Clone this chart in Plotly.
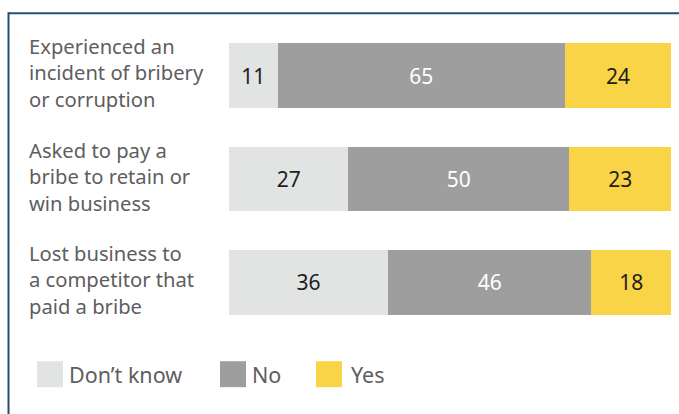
import plotly.graph_objects as go

# Survey responses, percent of respondents
categories = [
    "Experienced an incident of bribery or corruption",
    "Asked to pay a bribe to retain or win business",
    "Lost business to a competitor that paid a bribe",
]
category_lines = [
    ["Experienced an", "incident of bribery", "or corruption"],
    ["Asked to pay a", "bribe to retain or", "win business"],
    ["Lost business to", "a competitor that", "paid a bribe"],
]
series_names = ["Don’t know", "No", "Yes"]
dont_know = [11, 27, 36]
no = [65, 50, 46]
yes = [24, 23, 18]

colors = ["#e2e3e3", "#9d9e9d", "#f9d447"]
label_colors = ["#1e1e1e", "#ffffff", "#1e1e1e"]
FONT = "Noto Sans"
TEXT_GREY = "#5e5e5e"

W, H = 679, 414
ML, MR, MT, MB = 229, 8, 23.75, 79.75
plot_w = W - ML - MR
plot_h = H - MT - MB


def px_x(x):
    return (x - ML) / plot_w


def px_y(y):
    return (H - MB - y) / plot_h


fig = go.Figure()
for name, vals, col, lcol in zip(series_names, [dont_know, no, yes], colors, label_colors):
    fig.add_trace(go.Bar(
        y=categories, x=vals, name=name, orientation="h",
        marker=dict(color=col, line=dict(width=0)),
        text=[str(v) for v in vals], textposition="inside",
        insidetextanchor="middle",
        textfont=dict(family=FONT, size=21, color=lcol),
        showlegend=False, hoverinfo="skip",
    ))

# Multi-line category labels, left aligned
annotations = []
for cat, lines in zip(categories, category_lines):
    annotations.append(dict(
        x=px_x(27.5), xref="paper", y=cat, yref="y",
        text="<br>".join(lines), showarrow=False,
        xanchor="left", yanchor="middle", align="left",
        yshift=3, borderpad=0,
        font=dict(family=FONT, size=20.2, color=TEXT_GREY),
    ))

# Legend: swatches and names
shapes = []
legend_sw = [37, 220, 316]
legend_tx = [67.5, 250.5, 349.5]
for name, col, sx, tx in zip(series_names, colors, legend_sw, legend_tx):
    shapes.append(dict(
        type="rect", xref="paper", yref="paper",
        x0=px_x(sx), x1=px_x(sx + 26), y0=px_y(387.5), y1=px_y(361.5),
        fillcolor=col, line=dict(width=0),
    ))
    annotations.append(dict(
        x=px_x(tx), xref="paper", y=px_y(374.5), yref="paper",
        text=name, showarrow=False, xanchor="left", yanchor="middle",
        borderpad=0,
        font=dict(family=FONT, size=21.5, color=TEXT_GREY),
    ))

# Frame lines along the top and left edges
frame = "#244f74"
shapes.append(dict(type="line", xref="paper", yref="paper",
                   x0=px_x(8.5), x1=px_x(W + 2), y0=px_y(13), y1=px_y(13),
                   line=dict(color=frame, width=2)))
shapes.append(dict(type="line", xref="paper", yref="paper",
                   x0=px_x(8.5), x1=px_x(8.5), y0=px_y(12), y1=px_y(H + 2),
                   line=dict(color=frame, width=2)))

fig.update_layout(
    barmode="stack",
    bargap=0.372,
    width=W, height=H,
    margin=dict(l=ML, r=MR, t=MT, b=MB, pad=0),
    paper_bgcolor="white", plot_bgcolor="white",
    xaxis=dict(range=[0, 100], visible=False, fixedrange=True),
    yaxis=dict(autorange="reversed", showticklabels=False, showgrid=False,
               zeroline=False, showline=False, ticks="", fixedrange=True),
    annotations=annotations,
    shapes=shapes,
    uniformtext=dict(mode=False),
)

fig.write_html("out.html", config={"displayModeBar": False})
